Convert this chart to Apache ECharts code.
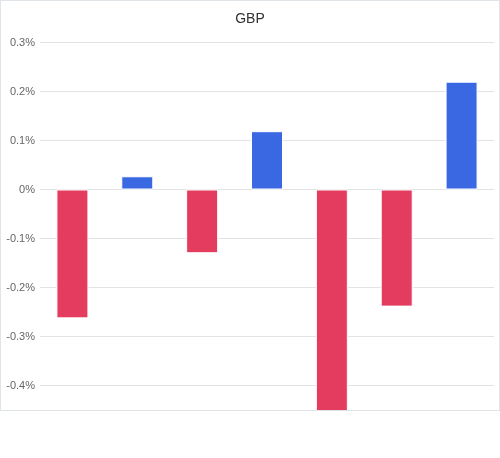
<!DOCTYPE html>
<html>
<head>
<meta charset="utf-8">
<script src="https://cdn.jsdelivr.net/npm/echarts@6/dist/echarts.min.js"></script>
<style>
html,body{margin:0;padding:0;background:#fff;}
#wrap{position:absolute;left:0;top:0;width:498px;height:409px;border:1px solid #dfe4e8;overflow:hidden;}
#chart{width:498px;height:460px;}
</style>
</head>
<body>
<div id="wrap"><div id="chart"></div></div>
<script>
var categories = ['1','2','3','4','5','6','7'];
var values = [-0.263, 0.027, -0.13, 0.119, -0.46, -0.239, 0.22];
var titleText = 'GBP';
var posColor = '#3a68e3';
var negColor = '#e33c5f';

var chart = echarts.init(document.getElementById('chart'), null, {renderer:'canvas'});
chart.setOption({
  animation:false,
  title:{text:titleText,left:'center',top:6,textStyle:{fontSize:14,fontWeight:'normal',color:'#333',fontFamily:'Liberation Sans, Arial, sans-serif'}},
  grid:{left:39,right:5,top:41.5,bottom:26.5,containLabel:false},
  xAxis:{type:'category',data:categories,axisLine:{show:false},axisTick:{show:false},axisLabel:{show:false},splitLine:{show:false}},
  yAxis:{type:'value',min:-0.5,max:0.3,interval:0.1,
    axisLine:{show:false},axisTick:{show:false},
    axisLabel:{color:'#666',fontSize:11,fontFamily:'Liberation Sans, Arial, sans-serif',margin:5,
      formatter:function(v){var r=Math.round(v*10)/10;return (r===0?'0':r.toFixed(1))+'%';}},
    splitLine:{lineStyle:{color:'#e3e3e3',width:1}}},
  series:[{type:'bar',barWidth:32,
    data:values.map(function(v){return {value:v,itemStyle:{color:v>=0?posColor:negColor}};}),
    itemStyle:{borderColor:'#fff',borderWidth:1}}]
});
</script>
</body>
</html>
